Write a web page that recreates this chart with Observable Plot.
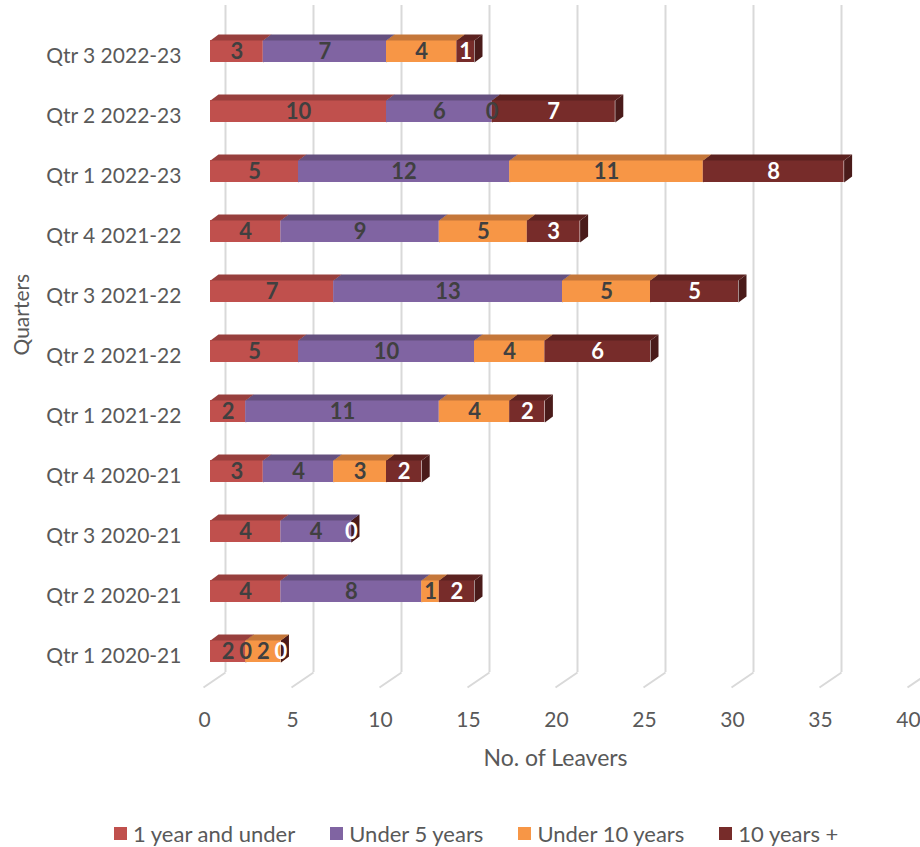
<!DOCTYPE html>
<html>
<head>
<meta charset="utf-8">
<script src="https://cdn.jsdelivr.net/npm/d3@7"></script>
<script src="https://cdn.jsdelivr.net/npm/@observablehq/plot@0.6"></script>
<style>
  html, body { margin: 0; padding: 0; background: #ffffff; }
  body { width: 920px; height: 847px; overflow: hidden; font-family: Lato, "Open Sans", sans-serif; }
  #chart svg { display: block; }
  .lg-swatches { font-family: Lato, sans-serif; font-size: 22px; color: #595959; margin: 0; padding-left: 114px; min-height: 26px; height: 26px; }
  .lg-swatch { margin-right: 35px; }
  .lg-swatch > svg { margin-right: 6px; }
</style>
</head>
<body>
<div id="chart"></div>
<div id="legend"></div>
<script>
// Quarters, listed top to bottom as they appear on the chart
const quarters = [
  "Qtr 3 2022-23", "Qtr 2 2022-23", "Qtr 1 2022-23",
  "Qtr 4 2021-22", "Qtr 3 2021-22", "Qtr 2 2021-22", "Qtr 1 2021-22",
  "Qtr 4 2020-21", "Qtr 3 2020-21", "Qtr 2 2020-21", "Qtr 1 2020-21"
];

// Length-of-service groups
const seriesNames = ["1 year and under", "Under 5 years", "Under 10 years", "10 years +"];

// Number of leavers per quarter for each group (null = no value recorded)
const oneYearAndUnder = [3, 10, 5, 4, 7, 5, 2, 3, 4, 4, 2];
const underFiveYears  = [7, 6, 12, 9, 13, 10, 11, 4, 4, 8, 0];
const underTenYears   = [4, 0, 11, 5, 5, 4, 4, 3, null, 1, 2];
const tenYearsPlus    = [1, 7, 8, 3, 5, 6, 2, 2, 0, 2, 0];

// Value axis ticks
const xTicks = [0, 5, 10, 15, 20, 25, 30, 35, 40];

// Face colours: front, top (lit from above) and right-hand side
const frontColors = ["#C0504D", "#8064A2", "#F79646", "#772C2A"];
const topColors   = ["#983F3D", "#65507F", "#C5773A", "#5C2220"];
const sideColors  = ["#7E3432", "#54426B", "#A86430", "#4A1B1A"];
const labelColors = ["#404040", "#404040", "#404040", "#FFFFFF"];

const valuesBySeries = [oneYearAndUnder, underFiveYears, underTenYears, tenYearsPlus];

// Scale set-up
const xDomain = [0, 40], xRange = [210, 914];
const yDomain = [0, quarters.length - 1], yRange = [56, 656];
const pxX = (xRange[1] - xRange[0]) / (xDomain[1] - xDomain[0]);
const pxY = (yRange[1] - yRange[0]) / (yDomain[1] - yDomain[0]);
const ux = p => p / pxX;   // pixels -> value units
const uy = p => p / pxY;   // pixels -> row units

// Box geometry (pixels converted into scale units)
const FRONT_TOP = uy(-16), FRONT_BOTTOM = uy(6);
const DEPTH_X = ux(8), DEPTH_Y = uy(6);
const WALL_SHIFT = ux(15), FLOOR_SHIFT = ux(-7);
const WALL_TOP = uy(5 - 56), FLOOR_BACK = uy(672 - 56), FLOOR_FRONT = uy(687 - 56);

// Stacked segments
const segments = [];
quarters.forEach((quarter, row) => {
  let start = 0;
  valuesBySeries.forEach((vals, s) => {
    const v = vals[row];
    if (v == null) return;
    segments.push({row, quarter, s, value: v, x1: start, x2: start + v});
    start += v;
  });
});

// Polygons for the top and side faces of each box
const topFaces = [], sideFaces = [];
segments.forEach((d, i) => {
  const yt = d.row + FRONT_TOP, yb = d.row + FRONT_BOTTOM;
  [[d.x1, yt], [d.x2, yt], [d.x2 + DEPTH_X, yt - DEPTH_Y], [d.x1 + DEPTH_X, yt - DEPTH_Y]]
    .forEach(([x, y]) => topFaces.push({id: i, x, y, color: topColors[d.s]}));
  [[d.x2, yt], [d.x2 + DEPTH_X, yt - DEPTH_Y], [d.x2 + DEPTH_X, yb - DEPTH_Y], [d.x2, yb]]
    .forEach(([x, y]) => sideFaces.push({id: i, x, y, color: sideColors[d.s]}));
});

const height = 820;
const plot = Plot.plot({
  width: 920,
  height,
  marginLeft: xRange[0],
  marginRight: 920 - xRange[1],
  marginTop: 5,
  marginBottom: height - 687,
  style: {fontFamily: "Lato, 'Open Sans', sans-serif", fontSize: "21px", color: "#595959", background: "#ffffff"},
  x: {domain: xDomain, range: xRange},
  y: {domain: yDomain, range: yRange},
  color: {type: "identity"},
  marks: [
    // back wall gridlines and floor edges
    Plot.ruleX(xTicks, {x: d => d + WALL_SHIFT, y1: WALL_TOP, y2: FLOOR_BACK, stroke: "#D9D9D9", strokeWidth: 2}),
    Plot.link(xTicks, {x1: d => d + WALL_SHIFT, y1: FLOOR_BACK, x2: d => d + FLOOR_SHIFT, y2: FLOOR_FRONT, stroke: "#D9D9D9", strokeWidth: 2}),
    // box faces
    Plot.line(sideFaces, {x: "x", y: "y", z: "id", fill: "color", stroke: null, curve: "linear-closed"}),
    Plot.rect(segments, {x1: "x1", x2: "x2", y1: d => d.row + FRONT_TOP, y2: d => d.row + FRONT_BOTTOM, fill: d => frontColors[d.s]}),
    Plot.line(topFaces, {x: "x", y: "y", z: "id", fill: "color", stroke: null, curve: "linear-closed"}),
    // value labels
    Plot.text(segments, {
      x: d => (d.x1 + d.x2) / 2,
      y: d => d.row + (FRONT_TOP + FRONT_BOTTOM) / 2,
      text: d => String(d.value),
      fill: d => labelColors[d.s],
      fontWeight: "bold",
      fontSize: 22
    }),
    // axes
    Plot.axisY({ticks: d3.range(quarters.length), tickFormat: i => quarters[i], tickSize: 0, tickPadding: 29, label: null, fontSize: 21}),
    Plot.axisX({ticks: xTicks, tickSize: 0, tickPadding: 25, dx: -6, label: null, fontSize: 21}),
    Plot.text(["No. of Leavers"], {frameAnchor: "bottom", dy: 78, dx: -7, fontSize: 23, fill: "#595959"}),
    Plot.text(["Quarters"], {frameAnchor: "left", rotate: -90, dx: -188, dy: 9, fontSize: 21, fill: "#595959"})
  ]
});
document.getElementById("chart").appendChild(plot);

const legend = Plot.legend({
  color: {type: "ordinal", domain: seriesNames, range: frontColors},
  legend: "swatches",
  swatchSize: 13,
  className: "lg"
});
document.getElementById("legend").appendChild(legend);
</script>
</body>
</html>
